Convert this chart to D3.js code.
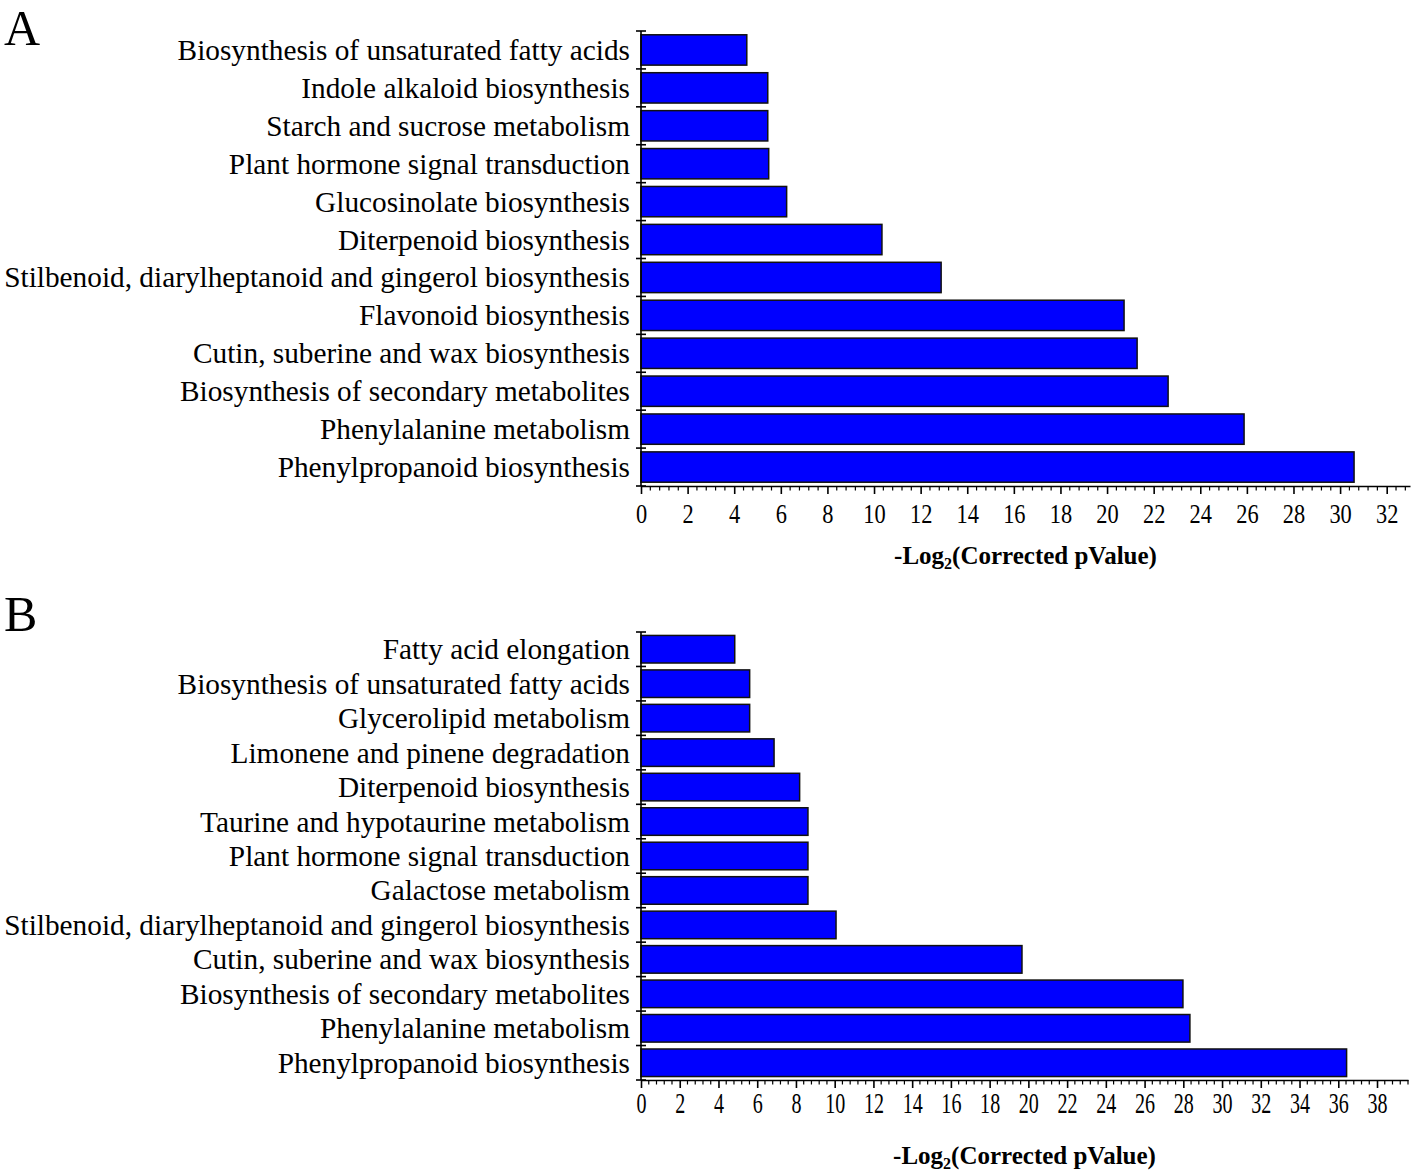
<!DOCTYPE html>
<html>
<head>
<meta charset="utf-8">
<script src="https://cdn.jsdelivr.net/npm/d3@7"></script>
<style>
  html, body { margin: 0; padding: 0; background: #fff; }
  svg { display: block; }
</style>
</head>
<body>
<svg id="chart" width="1418" height="1172"></svg>
<script>
// ---- Data ----
const categoriesA = [
  "Biosynthesis of unsaturated fatty acids",
  "Indole alkaloid biosynthesis",
  "Starch and sucrose metabolism",
  "Plant hormone signal transduction",
  "Glucosinolate biosynthesis",
  "Diterpenoid biosynthesis",
  "Stilbenoid, diarylheptanoid and gingerol biosynthesis",
  "Flavonoid biosynthesis",
  "Cutin, suberine and wax biosynthesis",
  "Biosynthesis of secondary metabolites",
  "Phenylalanine metabolism",
  "Phenylpropanoid biosynthesis"
];
const valuesA = [4.54, 5.44, 5.44, 5.48, 6.25, 10.34, 12.88, 20.73, 21.29, 22.62, 25.88, 30.6];
const ticksA = [0, 2, 4, 6, 8, 10, 12, 14, 16, 18, 20, 22, 24, 26, 28, 30, 32];

const categoriesB = [
  "Fatty acid elongation",
  "Biosynthesis of unsaturated fatty acids",
  "Glycerolipid metabolism",
  "Limonene and pinene degradation",
  "Diterpenoid biosynthesis",
  "Taurine and hypotaurine metabolism",
  "Plant hormone signal transduction",
  "Galactose metabolism",
  "Stilbenoid, diarylheptanoid and gingerol biosynthesis",
  "Cutin, suberine and wax biosynthesis",
  "Biosynthesis of secondary metabolites",
  "Phenylalanine metabolism",
  "Phenylpropanoid biosynthesis"
];
const valuesB = [4.84, 5.61, 5.61, 6.87, 8.19, 8.62, 8.62, 8.62, 10.07, 19.67, 27.98, 28.34, 36.43];
const ticksB = [0, 2, 4, 6, 8, 10, 12, 14, 16, 18, 20, 22, 24, 26, 28, 30, 32, 34, 36, 38];

const axisTitle = "-Log";
const axisTitleSub = "2";
const axisTitleRest = "(Corrected pValue)";

// ---- Drawing ----
const svg = d3.select("#chart");
const FONT = "'Liberation Serif', 'Times New Roman', serif";

function panel(cfg) {
  const { letter, letterY, cats, vals, ticks, xMax, x0, x1, yTop, yBottom, catFont,
          tickFont, tickScale, tickBaseline, titleY, minorStep } = cfg;
  const g = svg.append("g");

  const x = d3.scaleLinear().domain([0, xMax]).range([x0, x1]);
  const y = d3.scaleBand().domain(cats).range([yTop, yBottom])
              .paddingInner(0.2).paddingOuter(0.1);

  // panel letter
  g.append("text").attr("x", 4).attr("y", letterY)
    .attr("font-family", FONT).attr("font-size", 50).attr("fill", "#000")
    .text(letter);

  // bars
  g.selectAll("rect.bar").data(cats).join("rect")
    .attr("class", "bar")
    .attr("x", x(0))
    .attr("y", d => y(d))
    .attr("width", (d, i) => x(vals[i]) - x(0))
    .attr("height", y.bandwidth())
    .attr("fill", "#0000ff")
    .attr("stroke", "#111")
    .attr("stroke-width", 1.5);

  // category labels
  g.selectAll("text.cat").data(cats).join("text")
    .attr("class", "cat")
    .attr("x", x(0) - 11)
    .attr("y", d => y(d) + y.bandwidth() / 2)
    .attr("dy", "0.34em")
    .attr("text-anchor", "end")
    .attr("font-family", FONT).attr("font-size", catFont).attr("fill", "#000")
    .text(d => d);

  // y axis line + boundary ticks
  const step = y.step();
  const bounds = d3.range(cats.length + 1).map(i => yTop + i * step);
  g.append("line").attr("x1", x(0)).attr("x2", x(0))
    .attr("y1", yTop).attr("y2", yBottom)
    .attr("stroke", "#000").attr("stroke-width", 1.6);
  g.selectAll("line.ytick").data(bounds).join("line")
    .attr("class", "ytick")
    .attr("x1", x(0) - 5).attr("x2", x(0) + 5)
    .attr("y1", d => d).attr("y2", d => d)
    .attr("stroke", "#000").attr("stroke-width", 1.6);

  // x axis
  const ax = d3.axisBottom(x).tickValues(ticks).tickSize(8).tickSizeOuter(0).tickFormat(d3.format("d"));
  const axG = g.append("g").attr("transform", `translate(0,${yBottom})`).call(ax);
  axG.select(".domain").attr("stroke", "#000").attr("stroke-width", 1.6);
  axG.selectAll(".tick line").attr("stroke", "#000").attr("stroke-width", 1.6);
  axG.selectAll(".tick text")
    .attr("font-family", FONT).attr("font-size", tickFont).attr("fill", "#000")
    .attr("y", tickBaseline).attr("dy", 0)
    .attr("transform", `scale(${tickScale},1)`);

  // minor ticks
  const minors = d3.range(0, xMax + 1e-6, minorStep).filter(v => Math.abs(v / 2 - Math.round(v / 2)) > 1e-6);
  g.selectAll("line.minor").data(minors).join("line")
    .attr("class", "minor")
    .attr("x1", d => x(d)).attr("x2", d => x(d))
    .attr("y1", yBottom).attr("y2", yBottom + 4.5)
    .attr("stroke", "#000").attr("stroke-width", 1.2);

  // axis title
  const t = g.append("text")
    .attr("x", (x0 + x1) / 2).attr("y", titleY)
    .attr("text-anchor", "middle")
    .attr("font-family", FONT).attr("font-size", 25).attr("font-weight", "bold").attr("fill", "#000");
  t.append("tspan").text(axisTitle);
  t.append("tspan").attr("font-size", 16).attr("dy", 5).text(axisTitleSub);
  t.append("tspan").attr("dy", -5).text(axisTitleRest);
}

panel({
  letter: "A", letterY: 45,
  cats: categoriesA, vals: valuesA, ticks: ticksA, catFont: 29.3,
  xMax: 33, x0: 641, x1: 1410, yTop: 31, yBottom: 486,
  tickFont: 28, tickScale: 0.8, tickBaseline: 37, titleY: 564, minorStep: 0.4
});

panel({
  letter: "B", letterY: 631,
  cats: categoriesB, vals: valuesB, ticks: ticksB, catFont: 29.3,
  xMax: 39.6, x0: 641, x1: 1408, yTop: 632, yBottom: 1080,
  tickFont: 29.5, tickScale: 0.68, tickBaseline: 33, titleY: 1164, minorStep: 0.4
});
</script>
</body>
</html>
